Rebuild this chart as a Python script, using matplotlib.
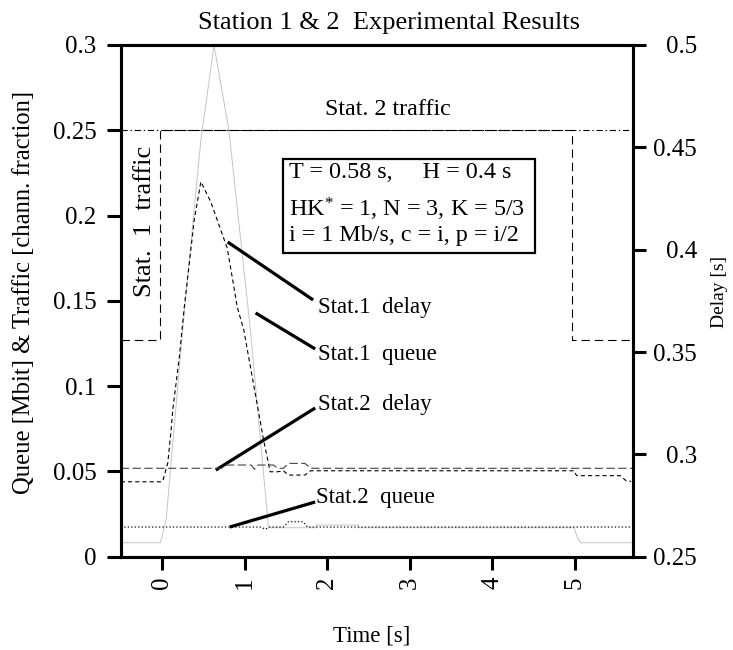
import matplotlib
matplotlib.use("Agg")
import matplotlib.pyplot as plt
from matplotlib.patches import Rectangle

plt.rcParams['font.family'] = ['Liberation Serif', 'DejaVu Serif']
plt.rcParams['mathtext.fontset'] = 'custom'
plt.rcParams['mathtext.rm'] = 'Liberation Serif'
plt.rcParams['mathtext.it'] = 'Liberation Serif:italic'
plt.rcParams['lines.scale_dashes'] = False

# ---------------- data ----------------
title = "Station 1 & 2  Experimental Results"
xlabel = "Time [s]"
ylabel_left = "Queue [Mbit] & Traffic [chann. fraction]"
ylabel_right = "Delay [s]"

x_ticks = [0, 1, 2, 3, 4, 5]
x_ticklabels = ["0", "1", "2", "3", "4", "5"]
yl_ticks = [0, 0.05, 0.1, 0.15, 0.2, 0.25, 0.3]
yl_ticklabels = ["0", "0.05", "0.1", "0.15", "0.2", "0.25", "0.3"]
yr_ticks = [0.25, 0.3, 0.35, 0.4, 0.45, 0.5]
yr_ticklabels = ["0.25", "0.3", "0.35", "0.4", "0.45", "0.5"]

# Station 1 traffic (step, left axis)
t_traffic1 = [-0.5, -0.02, 4.97, 5.7]
traffic1 = [0.127, 0.25, 0.127, 0.127]

# Station 2 traffic (left axis)
t_traffic2 = [-0.5, 5.7]
traffic2 = [0.25, 0.25]

# Station 1 queue (left axis)
t_queue1 = [-0.5, -0.02, 0.02, 0.05, 0.25, 0.47, 0.63, 0.81, 1.07, 1.29,
            1.87, 1.87, 2.38, 2.38, 4.99, 5.03, 5.07, 5.7]
queue1 = [0.0082, 0.0082, 0.0158, 0.0217, 0.133, 0.244, 0.300, 0.250, 0.133, 0.0170,
          0.0170, 0.0186, 0.0186, 0.0170, 0.0170, 0.0110, 0.0082, 0.0082]

# Station 2 queue (left axis)
t_queue2 = [-0.5, 1.20, 1.25, 1.30, 1.47, 1.53, 1.71, 1.76, 5.7]
queue2 = [0.0174, 0.0174, 0.0161, 0.0174, 0.0174, 0.0205, 0.0205, 0.0174, 0.0174]

# Station 1 delay (right axis)
t_delay1 = [-0.5, 0.0, 0.01, 0.07, 0.11, 0.13, 0.21, 0.27, 0.33, 0.39, 0.47,
            0.59, 0.79, 0.87, 0.91, 0.99, 1.23, 1.31, 1.40, 1.47, 1.53, 1.73,
            1.80, 4.99, 5.02, 5.55, 5.62, 5.68]
delay1 = [0.2866, 0.2866, 0.2871, 0.2958, 0.3119, 0.3217, 0.3477, 0.3721, 0.3933,
          0.4145, 0.4332, 0.4234, 0.4007, 0.3819, 0.3721, 0.3608, 0.3070, 0.2915,
          0.2915, 0.2920, 0.2899, 0.2899, 0.2920, 0.2920, 0.2896, 0.2896, 0.2871, 0.2868]

# Station 2 delay (right axis)
t_delay2 = [-0.5, 0.72, 0.78, 1.08, 1.12, 1.16, 1.35, 1.40, 1.47, 1.53, 1.73, 1.80, 5.7]
delay2 = [0.2932, 0.2932, 0.2948, 0.2948, 0.2927, 0.2948, 0.2948, 0.2932, 0.2932,
          0.2956, 0.2956, 0.2932, 0.2932]

# ---------------- figure ----------------
fig = plt.figure(figsize=(7.33, 6.5), dpi=100)
ax = fig.add_axes([0.1647, 0.1435, 0.6985, 0.7873])
ax2 = ax.twinx()

ax.set_xlim(-0.5, 5.7)
ax.set_ylim(0, 0.3)
ax2.set_ylim(0.25, 0.5)

lw = 0.8
ax.plot(t_traffic2, traffic2, color='black', lw=lw, dashes=(4.5, 2, 1, 2))
ax.plot(t_traffic1, traffic1, color='black', lw=lw, drawstyle='steps-post', dashes=(6, 3.6))
ax.plot(t_queue1, queue1, color='#c4c4c4', lw=0.7)
ax.plot(t_queue2, queue2, color='black', lw=lw, dashes=(1, 1.5))
ax2.plot(t_delay1, delay1, color='black', lw=lw, dashes=(3, 2.2))
ax2.plot(t_delay2, delay2, color='#444444', lw=lw, dashes=(6, 2.5))

# spines / ticks
for a in (ax, ax2):
    for s in a.spines.values():
        s.set_linewidth(2.2)

tfs = 18
fs = 16.5
ax.set_xticks(x_ticks)
ax.set_xticklabels(x_ticklabels, rotation=90, fontsize=tfs)
ax.set_yticks(yl_ticks)
ax.set_yticklabels(yl_ticklabels, fontsize=tfs)
ax.tick_params(axis='x', direction='out', length=9.4, width=2.2, pad=5)
ax.tick_params(axis='y', direction='out', length=10, width=2.2, pad=7.5)

ax2.set_yticks(yr_ticks)
ax2.set_yticklabels(yr_ticklabels, fontsize=tfs)
ax2.tick_params(axis='y', direction='out', length=9.4, width=2.2, pad=37)
for lab in ax2.get_yticklabels():
    lab.set_horizontalalignment('right')

# text annotations (left-axis data coords)
ax.text(2.74, 0.2588, "Stat. 2 traffic", fontsize=17.3, ha='center', va='baseline')
ax.text(-0.205, 0.1967, "Stat.  1  traffic", fontsize=19, rotation=90, ha='center', va='center')

ax.add_patch(Rectangle((1.466, 0.1782), 4.518 - 1.466, 0.2330 - 0.1782,
                       fill=False, edgecolor='black', lw=1.6, zorder=5))
bfs = 17.4
ax.text(1.534, 0.2218, "T = 0.58 s,     H = 0.4 s", fontsize=bfs, ha='left', va='baseline')
ax.text(1.534, 0.1993, r"HK$^{*}$ = 1, N = 3, K = 5/3", fontsize=bfs, ha='left', va='baseline')
ax.text(1.534, 0.1853, "i = 1 Mb/s, c = i, p = i/2", fontsize=bfs, ha='left', va='baseline')

# pointer lines and labels
pointers = [
    ((0.795, 0.1845), (1.831, 0.1505), (1.89, 0.1426), "Stat.1  delay"),
    ((1.133, 0.1429), (1.855, 0.1218), (1.89, 0.1152), "Stat.1  queue"),
    ((0.651, 0.0508), (1.855, 0.0872), (1.89, 0.0860), "Stat.2  delay"),
    ((0.819, 0.0174), (1.855, 0.0321), (1.87, 0.0313), "Stat.2  queue"),
]
for (x0, y0), (x1, y1), (tx, ty), lab in pointers:
    ax.plot([x0, x1], [y0, y1], color='black', lw=2.3, solid_capstyle='butt', zorder=6)
    ax.text(tx, ty, lab, fontsize=fs, ha='left', va='baseline')

# titles and axis labels
fig.text(388.5 / 733, 1 - 29 / 650, title, fontsize=19, ha='center', va='baseline')
fig.text(372 / 733, 1 - 636 / 650, xlabel, fontsize=fs, ha='center', va='center')
fig.text(24 / 733, 1 - 292 / 650, ylabel_left, fontsize=17.7, rotation=90, ha='center', va='center')
fig.text(720 / 733, 1 - 292 / 650, ylabel_right, fontsize=14, rotation=90, ha='center', va='center')

fig.savefig("out.png", dpi=100)
